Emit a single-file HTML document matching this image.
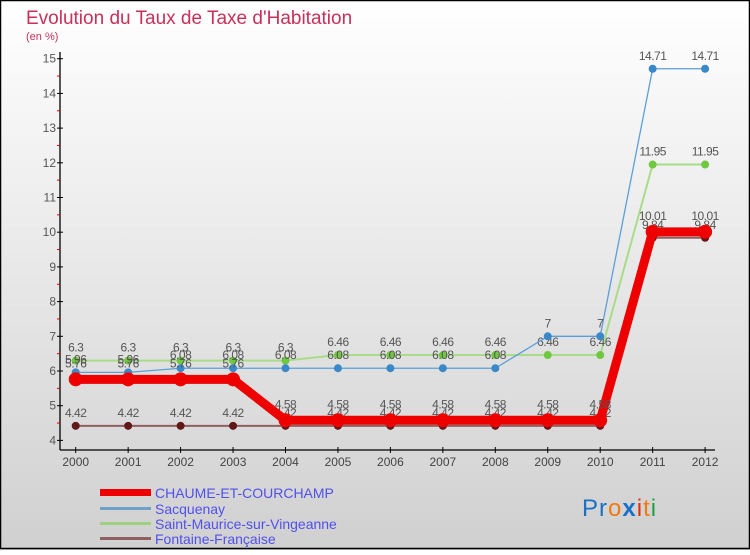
<!DOCTYPE html>
<html><head><meta charset="utf-8"><style>
html,body{margin:0;padding:0}
body{width:750px;height:550px;overflow:hidden;font-family:"Liberation Sans",sans-serif}
</style></head><body>
<svg id="chart" width="750" height="550" xmlns="http://www.w3.org/2000/svg">
<defs>
<linearGradient id="bg" x1="0" y1="0" x2="0" y2="1">
<stop offset="0" stop-color="#ffffff"/><stop offset="1" stop-color="#d0d0d0"/>
</linearGradient>
</defs>
<rect x="0" y="0" width="750" height="550" fill="url(#bg)"/>
<rect x="0.5" y="0.5" width="749" height="548" fill="none" stroke="#000" stroke-width="1.5"/>
<text x="26" y="24" font-size="19" fill="#c8305a">Evolution du Taux de Taxe d'Habitation</text>
<text x="26" y="40" font-size="11" fill="#c8305a">(en %)</text>
<g id="axes"></g>
<g id="series"></g>
<g id="legend">
<rect x="100" y="489" width="51" height="7" fill="#ee0000"/>
<text x="155" y="498" font-size="14" fill="#5050ee">CHAUME-ET-COURCHAMP</text>
<rect x="100" y="507" width="51" height="3" fill="#6fa0c8"/>
<text x="155" y="514" font-size="14" fill="#5050ee">Sacquenay</text>
<rect x="100" y="522" width="51" height="3" fill="#9ed080"/>
<text x="155" y="529" font-size="14" fill="#5050ee">Saint-Maurice-sur-Vingeanne</text>
<rect x="100" y="537" width="51" height="3" fill="#906060"/>
<text x="155" y="544" font-size="14" fill="#5050ee">Fontaine-Française</text>
</g>
<text x="582" y="516" font-size="24" letter-spacing="1"><tspan fill="#1a6fc8">Pr</tspan><tspan fill="#f07a10">o</tspan><tspan fill="#1a6fc8" font-weight="bold">x</tspan><tspan fill="#e03010">i</tspan><tspan fill="#f07a10">t</tspan><tspan fill="#20a040">i</tspan></text>
</svg>
<script>
const years = [2000,2001,2002,2003,2004,2005,2006,2007,2008,2009,2010,2011,2012];
const chaume = [5.76,5.76,5.76,5.76,4.58,4.58,4.58,4.58,4.58,4.58,4.58,10.01,10.01];
const sacquenay = [5.96,5.96,6.08,6.08,6.08,6.08,6.08,6.08,6.08,7,7,14.71,14.71];
const saintMaurice = [6.3,6.3,6.3,6.3,6.3,6.46,6.46,6.46,6.46,6.46,6.46,11.95,11.95];
const fontaine = [4.42,4.42,4.42,4.42,4.42,4.42,4.42,4.42,4.42,4.42,4.42,9.84,9.84];
const yTicks = [4,5,6,7,8,9,10,11,12,13,14,15];

const NS = "http://www.w3.org/2000/svg";
function xs(i){return 75.7 + i*52.45;}
function ys(v){return 440.4 - (v-4)*34.7;}
function mk(tag, attrs, parent){const e=document.createElementNS(NS,tag);for(const k in attrs)e.setAttribute(k,attrs[k]);parent.appendChild(e);return e;}
function fmt(v){return String(v);}

const axes = document.getElementById('axes');
let l = mk('line',{x1:60,y1:52,x2:60,y2:450,stroke:'#000','stroke-width':1.3},axes);


l = mk('line',{x1:60,y1:450,x2:715,y2:450,stroke:'#000','stroke-width':1.3},axes);


yTicks.forEach(v=>{
  const y=ys(v);
  const t=mk('line',{x1:57,y1:y,x2:63,y2:y,stroke:'#000'},axes);
  
  
  const tx=mk('text',{x:56,y:y+4,'font-size':12,fill:'#555','text-anchor':'end'},axes);
  tx.textContent=v;
  
  
  if(v<15){
    const m=mk('line',{x1:57,y1:ys(v+0.5),x2:60,y2:ys(v+0.5),stroke:'#e00000'},axes);
    
    
  }
});
years.forEach((yr,i)=>{
  const x=xs(i);
  const t=mk('line',{x1:x,y1:447,x2:x,y2:453,stroke:'#000'},axes);
  
  
  const tx=mk('text',{x:x,y:466,'font-size':12,fill:'#444','text-anchor':'middle'},axes);
  tx.textContent=yr;
  
  
});

const sg=document.getElementById('series');
function drawSeries(vals,name,color,width,dotR,dotColor,labelDy){
  const g=mk('g',{},sg);
  
  
  const pts=vals.map((v,i)=>xs(i)+','+ys(v)).join(' ');
  const pl=mk('polyline',{points:pts,fill:'none',stroke:color,'stroke-width':width,'stroke-linejoin':'round'},g);
  
  
  vals.forEach((v,i)=>{
    const c=mk('circle',{cx:xs(i),cy:ys(v),r:dotR,fill:dotColor},g);
    
    
    const t=mk('text',{x:xs(i),y:ys(v)+labelDy,'font-size':12,fill:'#555','text-anchor':'middle','letter-spacing':'-0.5'},g);
    t.textContent=fmt(v);
    
    
  });
}
drawSeries(fontaine,'fontaine','#906060',2,4,'#601818',-9);
drawSeries(saintMaurice,'saint-maurice','#a8dc88',2,4,'#70c840',-9);
drawSeries(sacquenay,'sacquenay','#5aa0d8',1.3,4,'#3a88c8',-9);
drawSeries(chaume,'chaume','#ee0000',9,7,'#ee0000',-12);
</script>
</body></html>
